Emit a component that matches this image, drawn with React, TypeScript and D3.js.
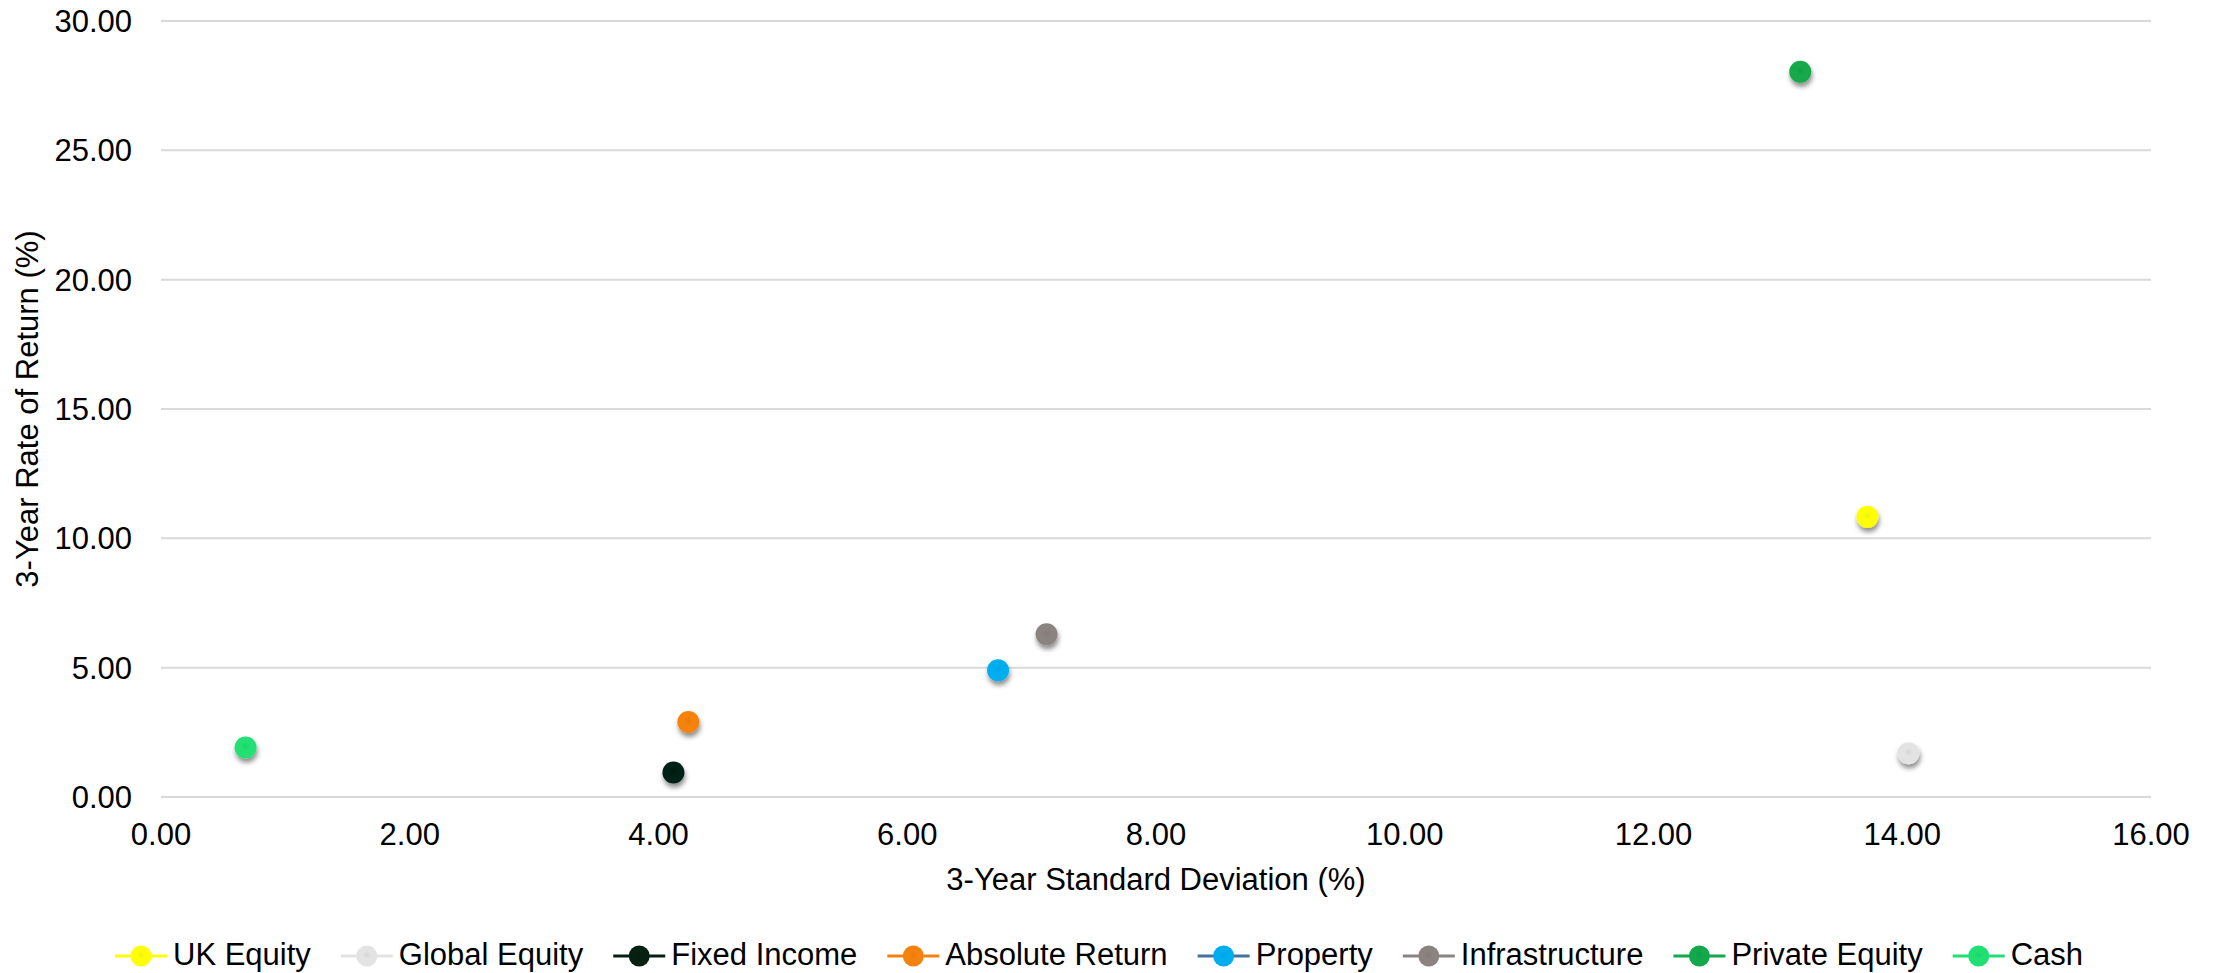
import React, { useEffect, useRef } from "react";
import * as d3 from "d3";

const seriesNames = [
  "UK Equity",
  "Global Equity",
  "Fixed Income",
  "Absolute Return",
  "Property",
  "Infrastructure",
  "Private Equity",
  "Cash",
];
const stdDev = [13.72, 14.05, 4.12, 4.24, 6.73, 7.12, 13.18, 0.68];
const returns = [10.83, 1.69, 0.95, 2.9, 4.9, 6.29, 28.04, 1.91];
const markerColors = [
  "#FFFF00",
  "#E3E3E3",
  "#062012",
  "#F5820F",
  "#00AEEF",
  "#8B8380",
  "#12A84B",
  "#20E073",
];
const legendLineColors = [
  "#FFFF00",
  "#E3E3E3",
  "#062012",
  "#F5820F",
  "#44729C",
  "#8B8380",
  "#12A84B",
  "#20E073",
];
const xTicks = [0, 2, 4, 6, 8, 10, 12, 14, 16];
const yTicks = [0, 5, 10, 15, 20, 25, 30];
const xTitle = "3-Year Standard Deviation (%)";
const yTitle = "3-Year Rate of Return (%)";

const W = 2221;
const H = 973;
const FONT = "'Liberation Sans', Arial, sans-serif";
const FS = 31;

export default function App() {
  const ref = useRef<SVGSVGElement | null>(null);

  useEffect(() => {
    document.body.style.margin = "0";
    const svg = d3.select(ref.current!);
    svg.selectAll("*").remove();

    const plot = { left: 161, right: 2151, top: 21, bottom: 797 };
    const x = d3.scaleLinear().domain([0, 16]).range([plot.left, plot.right]);
    const y = d3.scaleLinear().domain([0, 30]).range([plot.bottom, plot.top]);

    const defs = svg.append("defs");
    const filt = defs
      .append("filter")
      .attr("id", "shadow")
      .attr("x", "-50%")
      .attr("y", "-50%")
      .attr("width", "200%")
      .attr("height", "200%");
    filt
      .append("feDropShadow")
      .attr("dx", 1)
      .attr("dy", 4)
      .attr("stdDeviation", 2.5)
      .attr("flood-color", "#000")
      .attr("flood-opacity", 0.45);

    markerColors.forEach((c, i) => {
      const g = defs
        .append("radialGradient")
        .attr("id", `grad${i}`)
        .attr("cx", "50%")
        .attr("cy", "45%")
        .attr("r", "55%");
      const base = d3.color(c)!;
      g.append("stop").attr("offset", "0%").attr("stop-color", base.darker(0.15).formatHex());
      g.append("stop").attr("offset", "35%").attr("stop-color", c);
      g.append("stop").attr("offset", "100%").attr("stop-color", c);
    });

    // gridlines
    svg
      .append("g")
      .selectAll("line")
      .data(yTicks)
      .join("line")
      .attr("x1", plot.left)
      .attr("x2", plot.right)
      .attr("y1", (d) => y(d))
      .attr("y2", (d) => y(d))
      .attr("stroke", "#D9D9D9")
      .attr("stroke-width", 2);

    // y tick labels
    svg
      .append("g")
      .selectAll("text")
      .data(yTicks)
      .join("text")
      .attr("x", 132)
      .attr("y", (d) => y(d))
      .attr("dy", "0.36em")
      .attr("text-anchor", "end")
      .attr("font-family", FONT)
      .attr("font-size", FS)
      .attr("fill", "#000")
      .text((d) => d3.format(".2f")(d));

    // x tick labels
    svg
      .append("g")
      .selectAll("text")
      .data(xTicks)
      .join("text")
      .attr("x", (d) => x(d))
      .attr("y", 845)
      .attr("text-anchor", "middle")
      .attr("font-family", FONT)
      .attr("font-size", FS)
      .attr("fill", "#000")
      .text((d) => d3.format(".2f")(d));

    // axis titles
    svg
      .append("text")
      .attr("x", (plot.left + plot.right) / 2)
      .attr("y", 890)
      .attr("text-anchor", "middle")
      .attr("font-family", FONT)
      .attr("font-size", FS)
      .attr("fill", "#000")
      .text(xTitle);

    svg
      .append("text")
      .attr("transform", `translate(38, ${(plot.top + plot.bottom) / 2}) rotate(-90)`)
      .attr("text-anchor", "middle")
      .attr("font-family", FONT)
      .attr("font-size", FS)
      .attr("fill", "#000")
      .text(yTitle);

    // points
    const pts = seriesNames.map((n, i) => ({ n, i, sx: stdDev[i], r: returns[i] }));
    svg
      .append("g")
      .selectAll("circle")
      .data(pts)
      .join("circle")
      .attr("cx", (d) => x(d.sx))
      .attr("cy", (d) => y(d.r))
      .attr("r", 11)
      .attr("fill", (d) => `url(#grad${d.i})`)
      .attr("filter", "url(#shadow)");

    // legend
    const lg = svg.append("g");
    let cx = 115;
    const ly = 956;
    const lineLen = 52;
    seriesNames.forEach((n, i) => {
      const item = lg.append("g");
      item
        .append("line")
        .attr("x1", cx)
        .attr("x2", cx + lineLen)
        .attr("y1", ly)
        .attr("y2", ly)
        .attr("stroke", legendLineColors[i])
        .attr("stroke-width", 3);
      item
        .append("circle")
        .attr("cx", cx + lineLen / 2)
        .attr("cy", ly)
        .attr("r", 10.5)
        .attr("fill", `url(#grad${i})`);
      const t = item
        .append("text")
        .attr("x", cx + lineLen + 6)
        .attr("y", 965)
        .attr("font-family", FONT)
        .attr("font-size", FS)
        .attr("fill", "#000")
        .text(n);
      const w = (t.node() as SVGTextElement).getComputedTextLength();
      cx = cx + lineLen + 6 + w + 30;
    });
  }, []);

  return (
    <div style={{ position: "absolute", left: 0, top: 0 }}>
      <svg ref={ref} width={W} height={H} style={{ display: "block", background: "#fff" }} />
    </div>
  );
}
